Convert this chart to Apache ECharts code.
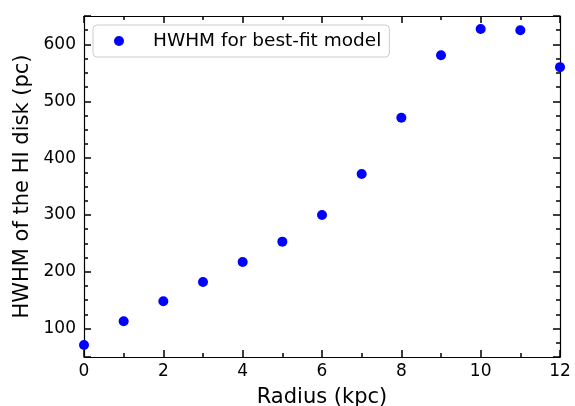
<!DOCTYPE html>
<html>
<head>
<meta charset="utf-8">
<script src="https://cdn.jsdelivr.net/npm/echarts@6/dist/echarts.min.js"></script>
<style>
html,body{margin:0;padding:0;background:#fff;}
#c{width:575px;height:406px;}
</style>
</head>
<body>
<div id="c"></div>
<script>
const radius = [0, 1, 2, 3, 4, 5, 6, 7, 8, 9, 10, 11, 12];
const hwhm = [71, 113, 148, 182, 217, 253, 300, 372, 471, 581, 627, 625, 560];
const seriesName = 'HWHM for best-fit model';
const xTitle = 'Radius (kpc)';
const yTitle = 'HWHM of the HI disk (pc)';

const FONT = 'DejaVu Sans';
const chart = echarts.init(document.getElementById('c'), null, {renderer: 'canvas'});

function xAx(pos, show) {
  return {
    type: 'value', position: pos, min: 0, max: 12, interval: 2,
    name: show ? xTitle : '', nameLocation: 'middle', nameGap: 30,
    nameTextStyle: {fontFamily: FONT, fontSize: 21, color: '#000'},
    axisLine: {show: true, onZero: false, lineStyle: {color: '#000', width: 1.2}},
    axisTick: {show: true, inside: true, length: 7, lineStyle: {color: '#000', width: 1.5}},
    minorTick: {show: true, splitNumber: 2, length: 4, lineStyle: {color: '#000', width: 1.5}},
    axisLabel: {show: show, margin: 6, fontFamily: FONT, fontSize: 17, color: '#000'},
    splitLine: {show: false}, minorSplitLine: {show: false}
  };
}
function yAx(pos, show) {
  return {
    type: 'value', position: pos, min: 50, max: 650,
    name: show ? yTitle : '', nameLocation: 'middle', nameGap: 50,
    nameTextStyle: {fontFamily: FONT, fontSize: 21, color: '#000'},
    axisLine: {show: true, onZero: false, lineStyle: {color: '#000', width: 1.2}},
    axisTick: {show: true, inside: true, length: 7, lineStyle: {color: '#000', width: 1.5}},
    minorTick: {show: true, splitNumber: 4, length: 4, lineStyle: {color: '#000', width: 1.5}},
    axisLabel: {show: show, margin: 8, fontFamily: FONT, fontSize: 17, color: '#000',
      formatter: v => (Math.round(v) % 100 === 0 ? String(Math.round(v)) : '')},
    splitLine: {show: false}, minorSplitLine: {show: false}
  };
}

chart.setOption({
  animation: false,
  backgroundColor: '#fff',
  grid: {left: 84, right: 15, top: 16, bottom: 49, containLabel: false, outerBoundsMode: 'none'},
  xAxis: [xAx('bottom', true), xAx('top', false)],
  yAxis: [yAx('left', true), yAx('right', false)],
  legend: {
    left: 93, top: 25,
    padding: [6, 8, 6, 21],
    itemWidth: 10, itemHeight: 10,
    icon: 'circle',
    borderColor: '#cccccc', borderWidth: 1, borderRadius: 4,
    backgroundColor: 'rgba(255,255,255,0.8)',
    textStyle: {fontFamily: FONT, fontSize: 18.5, color: '#000', padding: [0, 0, 0, 24], lineHeight: 20},
    data: [seriesName]
  },
  series: [{
    name: seriesName,
    type: 'scatter',
    symbol: 'circle',
    symbolSize: 10,
    itemStyle: {color: '#0000ff', opacity: 1},
    clip: false,
    data: radius.map((r, i) => [r, hwhm[i]])
  }]
});
</script>
</body>
</html>
